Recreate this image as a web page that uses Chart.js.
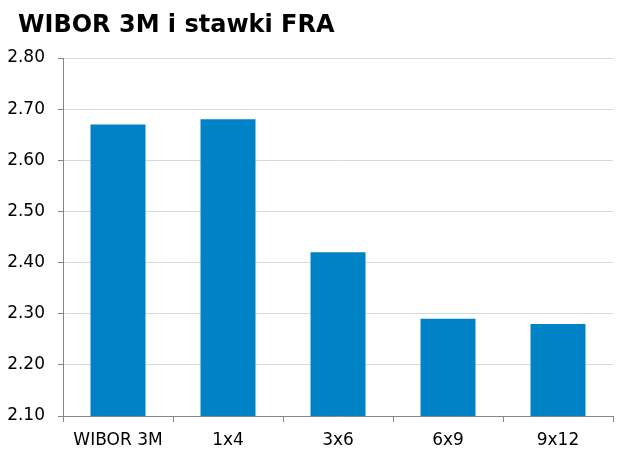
<!DOCTYPE html>
<html>
<head>
<meta charset="utf-8">
<script src="https://cdn.jsdelivr.net/npm/chart.js@4/dist/chart.umd.min.js"></script>
<style>
  html, body { margin: 0; padding: 0; background: #fff; }
  canvas { display: block; }
</style>
</head>
<body>
<canvas id="fraChart" width="621" height="455"></canvas>
<script>
/* data */
const categories = ['WIBOR 3M', '1x4', '3x6', '6x9', '9x12'];
const rates = [2.67, 2.68, 2.42, 2.29, 2.28];
const yMin = 2.10;
const yMax = 2.80;
const yStep = 0.10;
const titleText = 'WIBOR 3M i stawki FRA';

const axisGrey = '#868686';
const gridGrey = '#d9d9d9';
const barBlue = '#0083c6';
const fontFamily = '"DejaVu Sans", Verdana, sans-serif';

/* title drawn at top-left like the original */
const titlePlugin = {
    id: 'cornerTitle',
    afterDraw(chart) {
        const ctx = chart.ctx;
        ctx.save();
        ctx.font = 'bold 24px ' + fontFamily;
        ctx.fillStyle = '#000';
        ctx.textBaseline = 'alphabetic';
        ctx.fillText(titleText, 18, 32);
        ctx.restore();
    }
};

const fraChart = new Chart(document.getElementById('fraChart'), {
    type: 'bar',
    data: {
        labels: categories,
        datasets: [{
            label: titleText,
            data: rates,
            backgroundColor: barBlue,
            borderWidth: 0,
            barPercentage: 1,
            categoryPercentage: 0.5
        }]
    },
    options: {
        responsive: false,
        animation: false,
        devicePixelRatio: 1,
        layout: {
            padding: { top: 58, right: 8, left: 0, bottom: 0 }
        },
        plugins: {
            legend: { display: false },
            tooltip: { enabled: false }
        },
        scales: {
            x: {
                afterFit(scale) { scale.height = 39; },
                grid: {
                    display: true,
                    drawOnChartArea: false,
                    offset: true,
                    tickLength: 6,
                    tickColor: axisGrey
                },
                border: { color: axisGrey },
                ticks: {
                    color: '#000',
                    padding: 8,
                    font: { family: fontFamily, size: 17 }
                }
            },
            y: {
                min: yMin,
                max: yMax,
                afterFit(scale) { scale.width = 63; },
                grid: {
                    color: gridGrey,
                    tickLength: 5,
                    tickColor: axisGrey
                },
                border: { color: axisGrey },
                ticks: {
                    stepSize: yStep,
                    color: '#000',
                    padding: 13,
                    font: { family: fontFamily, size: 17 },
                    callback: v => v.toFixed(2)
                }
            }
        }
    },
    plugins: [titlePlugin]
});
</script>
</body>
</html>
